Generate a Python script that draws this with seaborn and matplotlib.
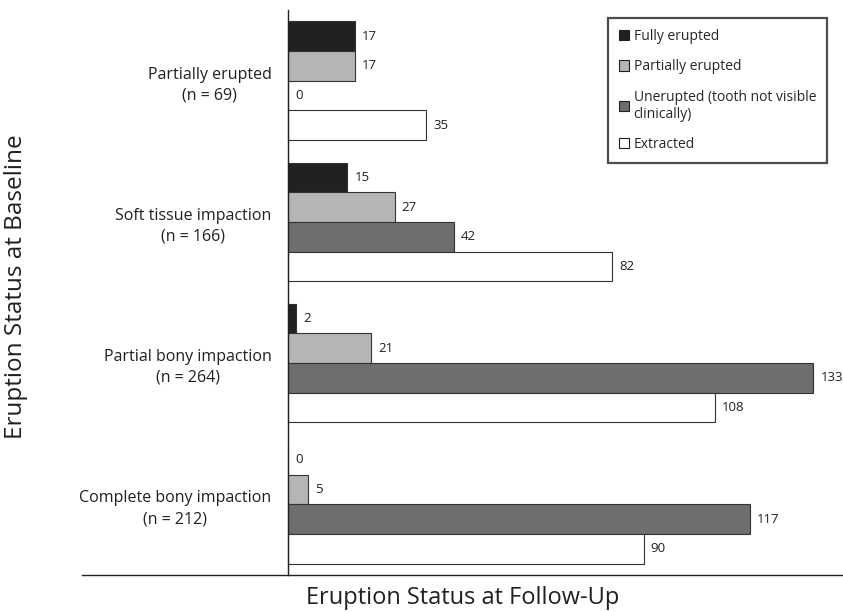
import matplotlib
matplotlib.use("Agg")

import matplotlib.pyplot as plt
import seaborn as sns
import pandas as pd

# baseline categories (rows) and follow-up outcome (hue)
baseline = [
    "Partially erupted\n(n = 69)",
    "Soft tissue impaction\n(n = 166)",
    "Partial bony impaction\n(n = 264)",
    "Complete bony impaction\n(n = 212)",
]
outcomes = [
    "Fully erupted",
    "Partially erupted",
    "Unerupted (tooth not visible\nclinically)",
    "Extracted",
]
fully_erupted = [17, 15, 2, 0]
partially_erupted = [17, 27, 21, 5]
unerupted = [0, 42, 133, 117]
extracted = [35, 82, 108, 90]

colors = ["#231f20", "#b5b5b5", "#6d6e71", "#ffffff"]


def build_frame() -> pd.DataFrame:
    rows = []
    for series, vals in zip(outcomes, [fully_erupted, partially_erupted, unerupted, extracted]):
        for cat, v in zip(baseline, vals):
            rows.append({"baseline": cat, "outcome": series, "count": v})
    return pd.DataFrame(rows)


def main():
    df = build_frame()
    sns.set_style("white")
    plt.rcParams["font.family"] = ["Open Sans", "DejaVu Sans"]

    fig = plt.figure(figsize=(8.43, 6.12), dpi=100)
    ax = fig.add_axes([82 / 843, 37 / 612, 761 / 843, 565 / 612])

    sns.barplot(
        data=df, y="baseline", x="count", hue="outcome",
        order=baseline, hue_order=outcomes, palette=colors,
        orient="h", width=0.84, edgecolor="#333333", linewidth=0.8,
        ax=ax, legend=True,
    )

    for cont in ax.containers:
        ax.bar_label(cont, fmt="%d", padding=5, fontsize=9.5, color="#231f20")

    ax.set_xlim(-52.2, 140.5)
    ax.set_ylim(3.5, -0.5)

    for s in ["top", "right"]:
        ax.spines[s].set_visible(False)
    ax.spines["left"].set_position(("data", 0))
    ax.spines["left"].set_color("#231f20")
    ax.spines["bottom"].set_color("#231f20")
    ax.spines["left"].set_linewidth(1.0)
    ax.spines["bottom"].set_linewidth(1.0)

    ax.set_xticks([])
    ax.tick_params(axis="y", length=0, pad=12, labelsize=11.5, labelcolor="#231f20")
    for lbl in ax.get_yticklabels():
        lbl.set_multialignment("center")
        lbl.set_linespacing(1.4)

    ax.set_xlabel("Eruption Status at Follow-Up", fontsize=17, color="#231f20", labelpad=8)
    ax.set_ylabel("Eruption Status at Baseline", fontsize=17.5, color="#231f20")
    ax.yaxis.set_label_coords(-0.071, 0.51)

    leg = ax.legend(
        loc="upper left", bbox_to_anchor=(0.691, 0.986), borderaxespad=0,
        fontsize=10, frameon=True, fancybox=False, edgecolor="#231f20",
        handlelength=0.75, handleheight=0.75, handletextpad=0.3,
        labelspacing=1.1, borderpad=0.8, title=None,
    )
    leg.get_frame().set_linewidth(1.6)
    for h in leg.legend_handles:
        h.set_edgecolor("#231f20")
        h.set_linewidth(0.8)

    fig.savefig("out.png", dpi=100)
    plt.close(fig)


if __name__ == "__main__":
    main()
